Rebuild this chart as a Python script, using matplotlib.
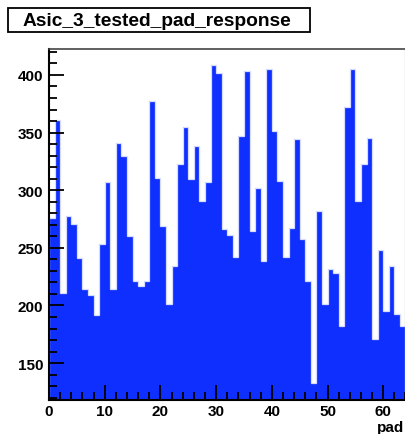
import numpy as np
import matplotlib
matplotlib.use("Agg")
import matplotlib.pyplot as plt
from matplotlib.patches import Rectangle
from matplotlib.ticker import MultipleLocator

# pad response per pad channel (64 pads)
pads = np.arange(64)
counts = [276, 361, 211, 278, 271, 241, 214, 209, 192, 253,
          307, 214, 341, 330, 260, 221, 217, 221, 377, 311,
          269, 201, 234, 323, 355, 310, 338, 291, 307, 409,
          402, 266, 261, 242, 347, 403, 265, 302, 239, 405,
          351, 308, 242, 267, 344, 258, 221, 133, 282, 201,
          232, 228, 182, 372, 405, 291, 323, 345, 171, 248,
          195, 234, 193, 182]
edges = np.arange(65)

plt.rcParams['font.family'] = ['Liberation Sans', 'DejaVu Sans']

W, H = 406, 435
fig = plt.figure(figsize=(W / 100, H / 100), dpi=100)
ax = fig.add_axes([49/W, 34/H, 356.5/W, 351/H])

ax.stairs(counts, edges, baseline=0, fill=True, color='#0f2fff')
ax.stairs(counts, edges, baseline=0, color='#d6dcff', lw=0.9)

ax.set_xlim(0, 64)
ax.set_ylim(118, 422.5)

ax.xaxis.set_major_locator(MultipleLocator(10))
ax.xaxis.set_minor_locator(MultipleLocator(2))
ax.yaxis.set_major_locator(MultipleLocator(50))
ax.yaxis.set_minor_locator(MultipleLocator(10))
ax.tick_params(which='both', direction='in', top=False, right=False,
               width=1.3, color='black', labelsize=11)
ax.tick_params(which='major', length=11, pad=3)
ax.tick_params(which='minor', length=5.5)
ax.tick_params(axis='y', pad=4)
for lab in ax.get_xticklabels() + ax.get_yticklabels():
    lab.set_fontweight('bold')

ax.spines['left'].set_linewidth(1.5)
ax.spines['bottom'].set_linewidth(1.5)
ax.spines['top'].set_linewidth(1.2)
ax.spines['top'].set_color('#444444')
ax.spines['right'].set_linewidth(0.8)
ax.spines['right'].set_color('#666666')

fig.text(404/W, 1 - 428/H, 'pad', ha='right', va='center',
         fontsize=11, fontweight='bold')

# title pave
fig.patches.append(Rectangle((7.5/W, 1 - 33/H), 302.5/W, 24/H,
                             transform=fig.transFigure, fc='white',
                             ec='black', lw=1.3))
fig.text(157/W, 1 - 21/H, 'Asic_3_tested_pad_response', ha='center',
         va='center', fontsize=13.8, fontweight='bold')

fig.savefig('out.png', dpi=100)
